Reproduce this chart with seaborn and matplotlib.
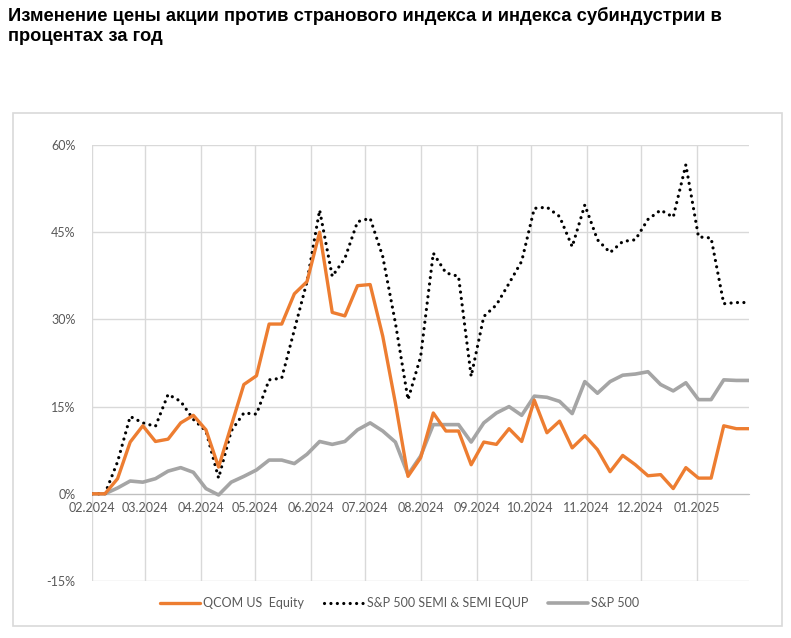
import numpy as np
import pandas as pd
import matplotlib.pyplot as plt
import matplotlib.dates as mdates
from matplotlib.ticker import FuncFormatter
import seaborn as sns

# Weekly data, % change since start of period
START_DATE = '2024-02-01'
N_WEEKS = 53

qcom = [0.0, 0.0, 2.6, 8.9, 11.7, 9.0, 9.4, 12.2, 13.5, 11.0,
        4.6, 11.7, 18.8, 20.3, 29.2, 29.2, 34.4, 36.5, 45.0, 31.2,
        30.6, 35.8, 36.0, 27.1, 15.6, 3.0, 6.2, 13.9, 10.8, 10.8,
        5.0, 8.9, 8.5, 11.2, 9.0, 16.1, 10.5, 12.5, 7.9, 10.0,
        7.6, 3.8, 6.6, 5.0, 3.1, 3.3, 0.9, 4.5, 2.7, 2.7,
        11.7, 11.2, 11.2]

semi = [0.0, 0.0, 5.5, 13.3, 12.2, 11.6, 17.1, 15.9, 12.8, 10.8,
        2.7, 10.8, 13.9, 13.7, 19.6, 19.9, 28.2, 36.5, 48.8, 37.4,
        40.5, 46.8, 47.4, 40.8, 29.4, 16.2, 23.6, 41.4, 38.0, 37.4,
        20.2, 30.5, 32.5, 36.2, 40.0, 49.1, 49.3, 47.7, 42.5, 49.7,
        43.7, 41.5, 43.4, 43.7, 47.2, 48.8, 47.6, 56.6, 44.2, 44.0,
        32.7, 32.9, 32.9]

spx = [0.0, 0.0, 1.0, 2.2, 2.0, 2.6, 3.9, 4.5, 3.7, 0.9,
       -0.2, 2.0, 3.0, 4.1, 5.8, 5.8, 5.2, 6.8, 9.0, 8.5,
       9.0, 11.0, 12.2, 10.8, 8.9, 3.3, 6.5, 11.9, 11.9, 11.9,
       8.9, 12.2, 13.9, 15.0, 13.5, 16.8, 16.6, 15.9, 13.8, 19.3,
       17.3, 19.3, 20.4, 20.6, 21.0, 18.8, 17.7, 19.1, 16.2, 16.2,
       19.6, 19.5, 19.5]

labels = ['QCOM US  Equity', 'S&P 500 SEMI & SEMI EQUP', 'S&P 500']
y_ticks = [-15, 0, 15, 30, 45, 60]

TITLE = ('Изменение цены акции против странового индекса и индекса субиндустрии в\n'
         'процентах за год')

dates = pd.date_range(START_DATE, periods=N_WEEKS, freq='7D')
df = pd.DataFrame({'date': dates, 'qcom': qcom, 'semi': semi, 'spx': spx})

sns.set_style('white')
plt.rcParams['font.family'] = ['Lato', 'DejaVu Sans']

W, H = 791, 638
fig = plt.figure(figsize=(W / 100, H / 100), dpi=100)

# outer chart frame
fig.patches.append(plt.Rectangle((13 / W, 1 - 626 / H), (782 - 13) / W, (626 - 113) / H,
                                 transform=fig.transFigure, fill=False,
                                 edgecolor='#d9d9d9', lw=1.2))

fig.text(8 / W, 1 - 7 / H, TITLE, ha='left', va='top', fontsize=13.2,
         fontweight='bold', family=['Liberation Sans', 'DejaVu Sans'], color='black',
         linespacing=1.2)

ax = fig.add_axes([92.3 / W, 1 - 581 / H, (749 - 92.3) / W, (581 - 145) / H])

grid_c = '#d9d9d9'

sns.lineplot(data=df, x='date', y='semi', ax=ax, color='black', lw=2.3,
             linestyle=(0, (0.01, 2.0)), dash_capstyle='round', label=labels[1],
             zorder=3)
sns.lineplot(data=df, x='date', y='spx', ax=ax, color='#a5a5a5', lw=2.6,
             label=labels[2], zorder=2)
sns.lineplot(data=df, x='date', y='qcom', ax=ax, color='#ed7d31', lw=2.4,
             label=labels[0], zorder=4)

ax.set_xlim(dates[0], dates[-1])
ax.set_ylim(-15, 60)
ax.set_yticks(y_ticks)
ax.yaxis.set_major_formatter(FuncFormatter(lambda v, p: f'{v:.0f}%'))
ax.xaxis.set_major_locator(mdates.MonthLocator())
ax.xaxis.set_major_formatter(mdates.DateFormatter('%m.%Y'))

ax.grid(True, color=grid_c, lw=1)
ax.set_axisbelow(True)
for s in ['top', 'right', 'left']:
    ax.spines[s].set_visible(False)
ax.spines['bottom'].set_position(('data', 0))
ax.spines['bottom'].set_color('#bfbfbf')
ax.spines['bottom'].set_zorder(1)
ax.tick_params(length=0, labelsize=9, labelcolor='#595959')
ax.tick_params(axis='x', pad=6)
ax.tick_params(axis='y', pad=12)
ax.set_xlabel('')
ax.set_ylabel('')

# legend in the order of the source
handles, lbls = ax.get_legend_handles_labels()
order = [lbls.index(l) for l in labels]
ax.legend([handles[i] for i in order], [lbls[i] for i in order],
          loc='center', bbox_to_anchor=(0.505, 35 / H), bbox_transform=fig.transFigure,
          ncol=3, frameon=False, fontsize=9, labelcolor='#595959',
          handlelength=3.2, handletextpad=0.25, columnspacing=1.6)

plt.savefig('out.png', dpi=100)
